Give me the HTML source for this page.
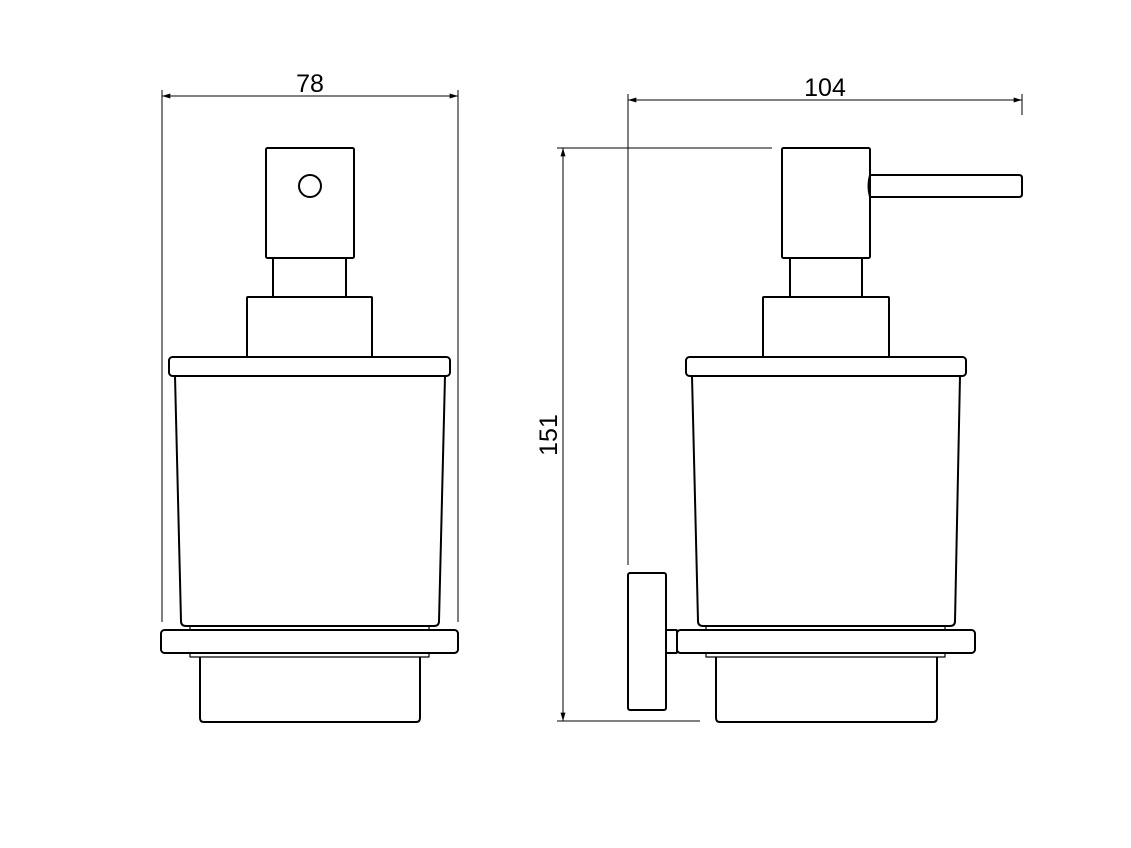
<!DOCTYPE html>
<html><head><meta charset="utf-8"><style>html,body{margin:0;padding:0;background:#fff}svg{display:block}</style></head>
<body>
<svg width="1131" height="848" viewBox="0 0 1131 848" xmlns="http://www.w3.org/2000/svg">
<defs>
<marker id="a" viewBox="0 0 10 6" refX="10" refY="3" markerWidth="12" markerHeight="5" orient="auto-start-reverse" markerUnits="userSpaceOnUse"><path d="M0,0 L10,3 L0,6 Z" fill="#000"/></marker>
</defs>
<g stroke="#000" stroke-width="1" fill="none">
<line x1="162" y1="90" x2="162" y2="622"/>
<line x1="458" y1="90" x2="458" y2="622"/>
<line x1="162" y1="96" x2="458" y2="96" marker-start="url(#a)" marker-end="url(#a)"/>
<line x1="628" y1="94" x2="628" y2="565"/>
<line x1="1022" y1="94" x2="1022" y2="115"/>
<line x1="628" y1="100" x2="1022" y2="100" marker-start="url(#a)" marker-end="url(#a)"/>
<line x1="557" y1="148" x2="772" y2="148"/>
<line x1="557" y1="721" x2="700" y2="721"/>
<line x1="563" y1="148" x2="563" y2="721" marker-start="url(#a)" marker-end="url(#a)"/>
</g>
<g stroke="#000" stroke-width="2" fill="none" stroke-linejoin="round">
<rect x="266" y="148" width="88" height="110" rx="1.5"/>
<circle cx="310" cy="186" r="11"/>
<line x1="273" y1="258" x2="273" y2="297"/><line x1="346" y1="258" x2="346" y2="297"/>
<rect x="247" y="297" width="125" height="60" rx="1"/>
<rect x="169" y="357" width="281" height="19" rx="3.5"/>
<path d="M175,376 L181,621 Q181,626 186,626 L434,626 Q439,626 439,621 L445,376"/>
<rect x="190" y="626" width="239" height="4" stroke-width="1.2"/>
<rect x="161" y="630" width="297" height="23" rx="3.5"/>
<rect x="190" y="653" width="239" height="4" stroke-width="1.2"/>
<path d="M200,657 L200,718 Q200,722 204,722 L416,722 Q420,722 420,718 L420,657"/>
<rect x="782" y="148" width="88" height="110" rx="1.5"/>
<path d="M870,175 L1019,175 Q1022,175 1022,178 L1022,194 Q1022,197 1019,197 L870,197 Q867,186 870,175 Z"/>
<line x1="790" y1="258" x2="790" y2="297"/><line x1="862" y1="258" x2="862" y2="297"/>
<rect x="763" y="297" width="126" height="60" rx="1"/>
<rect x="686" y="357" width="280" height="19" rx="3.5"/>
<path d="M692,376 L698,621 Q698,626 703,626 L950,626 Q955,626 955,621 L960,376"/>
<rect x="706" y="626" width="239" height="4" stroke-width="1.2"/>
<rect x="677" y="630" width="298" height="23" rx="3.5"/>
<rect x="666" y="630" width="11" height="23" rx="1"/>
<rect x="628" y="573" width="38" height="137" rx="2"/>
<rect x="706" y="653" width="239" height="4" stroke-width="1.2"/>
<path d="M716,657 L716,718 Q716,722 720,722 L933,722 Q937,722 937,718 L937,657"/>
</g>
<g font-family="Liberation Sans, sans-serif" font-size="25" fill="#000" text-anchor="middle">
<text x="310" y="92">78</text>
<text x="825" y="96">104</text>
<text x="0" y="0" transform="translate(557,435) rotate(-90)">151</text>
</g>
</svg>
</body></html>
